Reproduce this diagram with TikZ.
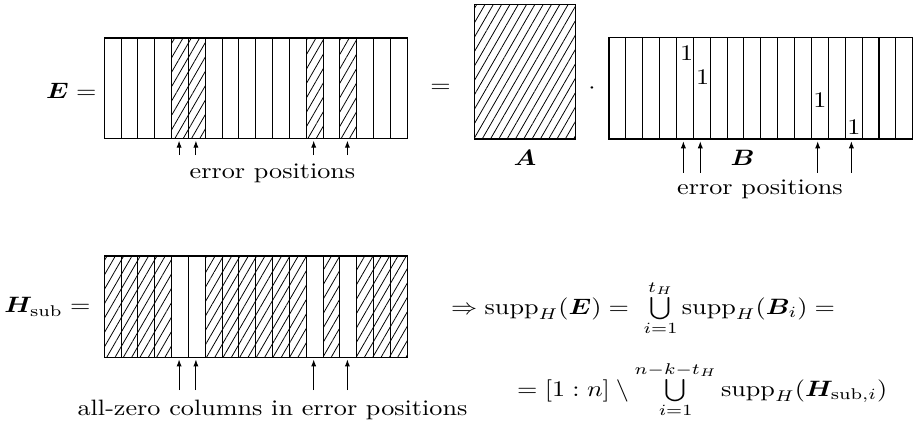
\documentclass[tikz,border=0pt]{standalone}
\usepackage{amsmath,bm,graphicx}
\usetikzlibrary{patterns.meta,arrows.meta}
\newcommand{\sqz}[1]{\scalebox{1}[0.85]{#1}}
\tikzset{
  hatch/.style={pattern={Lines[angle=60,distance=2.75pt,line width=0.3pt]}},
  colbox/.style={draw,line width=0.4pt},
  lbl/.style={inner sep=0pt,anchor=base},
  arr/.style={-{Latex[length=2.7pt,width=2pt]},line width=0.4pt},
}
\begin{document}
\begin{tikzpicture}[x=0.382pt,y=-0.382pt]
\useasboundingbox (0,0) rectangle (913,427);

% ---- E matrix
\foreach \i in {4,5,12,14} \fill[hatch] ({104.3+\i*16.833},38) rectangle ++(16.833,100.3);
\foreach \i in {0,...,17} \draw[colbox] ({104.3+\i*16.833},38) rectangle ++(16.833,100.3);

% ---- A matrix
\draw[colbox,hatch] (474.3,4.3) rectangle (575.7,139);

% ---- B matrix
\foreach \i in {0,...,17} \draw[colbox] ({609+\i*16.87},37.7) rectangle ++(16.87,101.3);
\draw[line width=0.5pt] ({609+14*16.87},37.7) rectangle ++(33.74,101.3);

% ---- H_sub matrix
\foreach \i in {0,1,2,3,6,7,8,9,10,11,13,15,16,17} \fill[hatch] ({104.3+\i*16.833},256) rectangle ++(16.833,101.3);
\foreach \i in {0,...,17} \draw[colbox] ({104.3+\i*16.833},256) rectangle ++(16.833,101.3);

% ---- arrows
\foreach \n/\x in {a/179.1,b/195.9,c/313.7,d/347.4}{
  \coordinate (Et\n) at (\x,155);
  \coordinate (Eh\n) at (\x,140.6);
  \draw[arr] (Et\n) -- (Eh\n);
  \coordinate (Ht\n) at (\x,390);
  \coordinate (Hh\n) at (\x,359.4);
  \draw[arr] (Ht\n) -- (Hh\n);
}
\foreach \n/\x in {a/683.4,b/700.3,c/817.7,d/851.4}{
  \coordinate (Bt\n) at (\x,172.7);
  \coordinate (Bh\n) at (\x,141.2);
  \draw[arr] (Bt\n) -- (Bh\n);
}

% ---- ones in B
\node[inner sep=0pt] (one1) at (686.7,53.3) {\sqz{1}};
\node[inner sep=0pt] (one2) at (702.7,76.7) {\sqz{1}};
\node[inner sep=0pt] (one3) at (820,100) {\sqz{1}};
\node[inner sep=0pt] (one4) at (854,126.7) {\sqz{1}};

% ---- labels
\node[lbl,anchor=base east] (Elbl) at (97,98.7) {\sqz{$\bm{E} =$}};
\node[lbl] (eq1) at (440.5,92.7) {\sqz{$=$}};
\node[lbl] (dot) at (592,93) {\sqz{$\cdot$}};
\node[lbl] (Albl) at (525,165) {\sqz{$\bm{A}$}};
\node[lbl] (Blbl) at (742.7,165.7) {\sqz{$\bm{B}$}};
\node[lbl] (errE) at (272.5,178.3) {\sqz{error positions}};
\node[lbl] (errB) at (760,194) {\sqz{error positions}};
\node[lbl,anchor=base east] (Hlbl) at (91,312.7) {\sqz{$\bm{H}_{\mathrm{sub}} =$}};
\node[lbl] (zero) at (272.5,415) {\sqz{all-zero columns in error positions}};
\node[lbl,anchor=base west] (f1) at (450.7,314) {\sqz{$\Rightarrow \mathrm{supp}_H(\bm{E}) = \;\bigcup\limits_{i=1}^{t_H} \mathrm{supp}_H(\bm{B}_i) =$}};
\node[lbl,anchor=base west] (f2) at (516.7,396) {\sqz{$= [1:n] \setminus \bigcup\limits_{i=1}^{n-k-t_H} \mathrm{supp}_H(\bm{H}_{\mathrm{sub},i})$}};
\end{tikzpicture}
\end{document}
